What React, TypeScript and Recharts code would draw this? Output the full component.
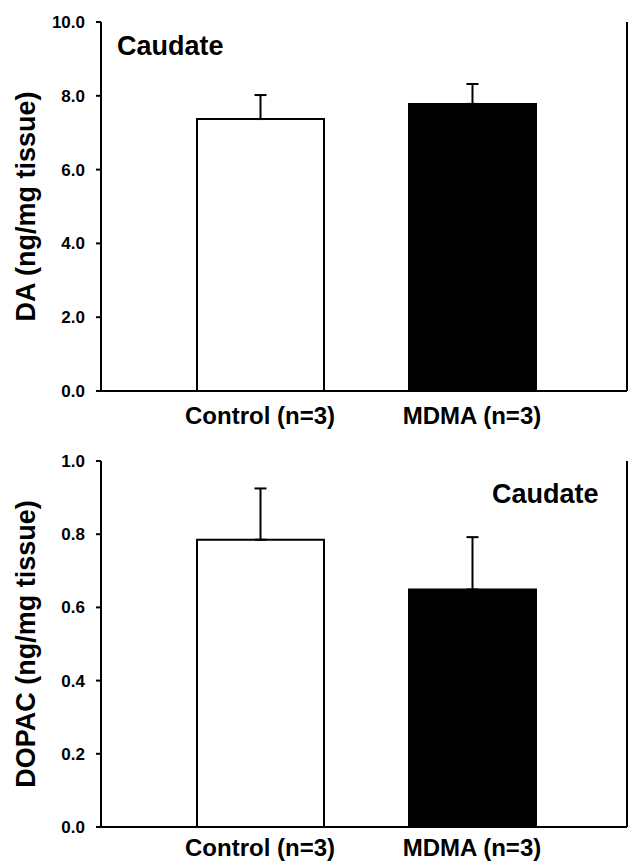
import React from 'react';
import { BarChart, Bar, XAxis, YAxis, Cell, ErrorBar } from 'recharts';

const categories = ['Control (n=3)', 'MDMA (n=3)'];
const daValues = [7.37, 7.78];
const daErrors = [0.65, 0.54];
const dopacValues = [0.785, 0.649];
const dopacErrors = [0.14, 0.143];
const daTicks = [0, 2, 4, 6, 8, 10];
const dopacTicks = [0, 0.2, 0.4, 0.6, 0.8, 1.0];
const barFills = ['#ffffff', '#000000'];

const FONT = '"Liberation Sans", Arial, Helvetica, sans-serif';

const daData = categories.map((name, i) => ({ name, value: daValues[i], err: [0, daErrors[i]] }));
const dopacData = categories.map((name, i) => ({ name, value: dopacValues[i], err: [0, dopacErrors[i]] }));

function makeXTick(offset: number) {
  return function XTick({ x, y, payload }: any) {
    return (
      <text x={x} y={y + offset} textAnchor="middle" fontFamily={FONT} fontWeight="bold" fontSize={24} fill="#000">
        {payload.value}
      </text>
    );
  };
}

function makeYTick(digits: number) {
  return function YTick({ x, y, payload }: any) {
    return (
      <text x={x} y={y + 6} textAnchor="end" fontFamily={FONT} fontWeight="bold" fontSize={17} fill="#000">
        {Number(payload.value).toFixed(digits)}
      </text>
    );
  };
}

function makeYLabel(text: string) {
  return function YLabel({ viewBox }: any) {
    const cx = 35;
    const cy = viewBox.y + viewBox.height / 2;
    return (
      <text
        x={cx}
        y={cy}
        transform={`rotate(-90, ${cx}, ${cy})`}
        textAnchor="middle"
        fontFamily={FONT}
        fontWeight="bold"
        fontSize={27}
        fill="#000"
      >
        {text}
      </text>
    );
  };
}

interface PanelProps {
  data: { name: string; value: number; err: number[] }[];
  ticks: number[];
  digits: number;
  label: string;
  height: number;
  top: number;
  xHeight: number;
  labelOffset: number;
}

function Panel({ data, ticks, digits, label, height, top, xHeight, labelOffset }: PanelProps) {
  const max = ticks[ticks.length - 1];
  return (
    <BarChart width={629} height={height} data={data} margin={{ top, right: 1, bottom: 0, left: 0 }}>
      <XAxis
        dataKey="name"
        height={xHeight}
        tick={makeXTick(labelOffset)}
        tickLine={false}
        tickSize={0}
        tickMargin={0}
        axisLine={{ stroke: '#000', strokeWidth: 2 }}
        padding={{ left: 53, right: 49 }}
        interval={0}
      />
      <XAxis xAxisId="top" orientation="top" dataKey="name" height={0} tick={false} tickLine={false}
        axisLine={{ stroke: '#000', strokeWidth: 2 }} />
      <YAxis
        width={101}
        domain={[0, max]}
        ticks={ticks}
        tick={makeYTick(digits)}
        tickSize={5}
        tickMargin={11}
        tickLine={{ stroke: '#000', strokeWidth: 2 }}
        axisLine={{ stroke: '#000', strokeWidth: 2 }}
        label={makeYLabel(label)}
        allowDataOverflow
      />
      <YAxis yAxisId="right" orientation="right" width={1} domain={[0, max]} ticks={[]} tick={false}
        tickLine={false} axisLine={{ stroke: '#000', strokeWidth: 2 }} />
      <Bar dataKey="value" barSize={127} isAnimationActive={false}>
        {data.map((d, i) => (
          <Cell key={d.name} fill={barFills[i]} stroke="#000" strokeWidth={2} />
        ))}
        <ErrorBar dataKey="err" width={6} stroke="#000" strokeWidth={2} direction="y" isAnimationActive={false} />
      </Bar>
    </BarChart>
  );
}

function Caption({ x, y }: { x: number; y: number }) {
  return (
    <svg width={629} height={863} style={{ position: 'absolute', left: 0, top: 0, pointerEvents: 'none' }}>
      <text x={x} y={y} fontFamily={FONT} fontWeight="bold" fontSize={27} fill="#000">
        Caudate
      </text>
    </svg>
  );
}

export default function App() {
  return (
    <div style={{ position: 'absolute', left: 0, top: 0, width: 629, height: 863, background: '#fff', overflow: 'hidden' }}>
      <div style={{ position: 'absolute', left: 0, top: 0 }}>
        <Panel data={daData} ticks={daTicks} digits={1} label="DA (ng/mg tissue)" height={440} top={22} xHeight={49} labelOffset={33} />
      </div>
      <div style={{ position: 'absolute', left: 0, top: 440 }}>
        <Panel data={dopacData} ticks={dopacTicks} digits={1} label="DOPAC (ng/mg tissue)" height={423} top={21} xHeight={36} labelOffset={29} />
      </div>
      <Caption x={117} y={55} />
      <Caption x={492} y={503} />
    </div>
  );
}
